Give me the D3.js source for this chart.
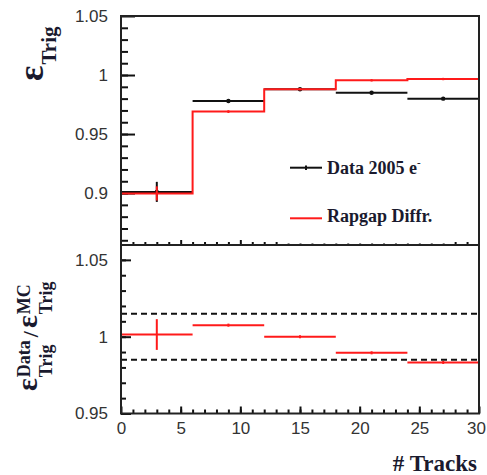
<!DOCTYPE html>
<html lang="en">
<head>
<meta charset="UTF-8">
<title>Trigger efficiency</title>
<style>
  body { margin: 0; background: #fff; }
  .tick text { font-family: "Liberation Sans", Arial, sans-serif; font-size: 17px; fill: #333; }
  .serif { font-family: "Liberation Serif", "Times New Roman", serif; font-weight: bold; fill: #1a1a2e; }
</style>
</head>
<body>
<svg width="487" height="475" id="svg"></svg>
<script src="https://d3js.org/d3.v7.min.js"></script>
<script>
// bins in number of tracks
const binEdges = [0, 6, 12, 18, 24, 30]
// data 2005 e-
const dataEff = [0.901, 0.978, 0.988, 0.985, 0.980]
const dataErr = [0.0085, 0.0012, 0.001, 0.001, 0.001]
// rapgap diffractive MC
const mcEff = [0.8997, 0.969, 0.988, 0.9955, 0.9966]
const mcErr = [0.006, 0.0012, 0.001, 0.001, 0.001]
// ratio data / mc
const ratio = [1.0014, 1.0075, 1.0, 0.9895, 0.9832]
const ratioErr = [0.010, 0.001, 0.001, 0.001, 0.001]
const bandLines = [0.985, 1.015]

const topMajor = [0.9, 0.95, 1, 1.05]
const topMinor = d3.range(86, 105).map(v => v / 100)
const botMajor = [0.95, 1, 1.05]
const botMinor = d3.range(96, 106).map(v => v / 100)
const xMajor = [0, 5, 10, 15, 20, 25, 30]
const xMinor = d3.range(1, 30)

const svg = d3.select("svg#svg")
const left = 121, right = 479
const topY0 = 16, split = 245, botY1 = 413.5

const x = d3.scaleLinear().domain([0, 30]).range([left, right])
const yTop = d3.scaleLinear().domain([0.856, 1.05]).range([split, topY0])
const yBot = d3.scaleLinear().domain([0.95, 1.06]).range([botY1, split - 0.5])

const fmt = d => String(+d.toFixed(2))

function yAxis(scale, major, minor, bigLen, smallLen) {
  const g = svg.append("g").attr("transform", `translate(${left},0)`)
  g.append("g").call(d3.axisLeft(scale).tickValues(minor).tickSize(-smallLen).tickFormat(""))
  g.append("g").call(d3.axisLeft(scale).tickValues(major).tickSize(-bigLen).tickPadding(13).tickFormat(fmt))
  g.selectAll(".domain").remove()
  g.selectAll("line").attr("stroke", "#111").attr("stroke-width", 2)
  return g
}
yAxis(yTop, topMajor, topMinor, 14, 7)
yAxis(yBot, botMajor, botMinor, 10, 5)

// bottom x axis with labels
const gx = svg.append("g").attr("transform", `translate(0,${botY1})`)
gx.append("g").call(d3.axisBottom(x).tickValues(xMinor).tickSize(-4).tickFormat(""))
gx.append("g").call(d3.axisBottom(x).tickValues(xMajor).tickSize(-7).tickPadding(8).tickFormat(d3.format("d")))
gx.selectAll(".domain").remove()
gx.selectAll("line").attr("stroke", "#111").attr("stroke-width", 2)
// keep the last label inside the page
gx.selectAll(".tick text").filter(d => d === 30).attr("dx", -3)

// top panel x ticks (no labels)
const gxt = svg.append("g").attr("transform", `translate(0,${split})`)
gxt.append("g").call(d3.axisBottom(x).tickValues(xMinor.filter(v => v % 5)).tickSize(-3).tickFormat(""))
gxt.append("g").call(d3.axisBottom(x).tickValues(xMajor.slice(1, -1)).tickSize(-5).tickFormat(""))
gxt.selectAll(".domain").remove()
gxt.selectAll("line").attr("stroke", "#111").attr("stroke-width", 2)

const bins = dataEff.map((v, i) => ({
  x0: binEdges[i], x1: binEdges[i + 1], xc: (binEdges[i] + binEdges[i + 1]) / 2,
  data: v, dErr: dataErr[i], mc: mcEff[i], mErr: mcErr[i], r: ratio[i], rErr: ratioErr[i]
}))

// data points: horizontal bin bars + error bars
const gd = svg.append("g").attr("stroke", "#111").attr("stroke-width", 2)
gd.selectAll(".hbar").data(bins).join("line")
  .attr("x1", d => x(d.x0)).attr("x2", d => x(d.x1))
  .attr("y1", d => yTop(d.data)).attr("y2", d => yTop(d.data))
gd.selectAll(".vbar").data(bins).join("line").attr("class", "vbar")
  .attr("x1", d => x(d.xc)).attr("x2", d => x(d.xc))
  .attr("y1", d => yTop(d.data + d.dErr)).attr("y2", d => yTop(d.data - d.dErr))
gd.selectAll("circle").data(bins).join("circle")
  .attr("cx", d => x(d.xc)).attr("cy", d => yTop(d.data)).attr("r", 1.2).attr("fill", "#111")

// MC histogram
const step = []
bins.forEach(d => { step.push([d.x0, d.mc]); step.push([d.x1, d.mc]) })
svg.append("path")
  .attr("d", d3.line().x(d => x(d[0])).y(d => yTop(d[1]))(step))
  .attr("fill", "none").attr("stroke", "#ff1a1a").attr("stroke-width", 2)
svg.append("g").selectAll("line").data(bins).join("line")
  .attr("x1", d => x(d.xc)).attr("x2", d => x(d.xc))
  .attr("y1", d => yTop(d.mc + d.mErr)).attr("y2", d => yTop(d.mc - d.mErr))
  .attr("stroke", "#ff1a1a").attr("stroke-width", 2)

// ratio panel
svg.append("g").selectAll("line").data(bandLines).join("line")
  .attr("x1", x(0)).attr("x2", x(30))
  .attr("y1", d => yBot(d)).attr("y2", d => yBot(d))
  .attr("stroke", "#111").attr("stroke-width", 2).attr("stroke-dasharray", "6,4")
const gr = svg.append("g").attr("stroke", "#ff1a1a").attr("stroke-width", 2)
gr.selectAll(".h").data(bins).join("line").attr("class", "h")
  .attr("x1", d => x(d.x0)).attr("x2", d => x(d.x1))
  .attr("y1", d => yBot(d.r)).attr("y2", d => yBot(d.r))
gr.selectAll(".v").data(bins).join("line").attr("class", "v")
  .attr("x1", d => x(d.xc)).attr("x2", d => x(d.xc))
  .attr("y1", d => yBot(d.r + d.rErr)).attr("y2", d => yBot(d.r - d.rErr))

// legend (white box hides some ticks)
const lg = svg.append("g")
lg.append("rect").attr("x", 282).attr("y", 150).attr("width", 168).attr("height", 93.5).attr("fill", "#fff")
lg.append("line").attr("x1", 290).attr("x2", 322).attr("y1", 167.7).attr("y2", 167.7).attr("stroke", "#111").attr("stroke-width", 2)
lg.append("line").attr("x1", 306).attr("x2", 306).attr("y1", 165.5).attr("y2", 170).attr("stroke", "#111").attr("stroke-width", 2)
const t1 = lg.append("text").attr("class", "serif").attr("x", 327).attr("y", 174).attr("font-size", 18).text("Data 2005 e")
t1.append("tspan").attr("dy", -8).attr("font-size", 11).text("-")
lg.append("line").attr("x1", 290).attr("x2", 322).attr("y1", 218.3).attr("y2", 218.3).attr("stroke", "#ff1a1a").attr("stroke-width", 2)
lg.append("text").attr("class", "serif").attr("x", 327).attr("y", 222).attr("font-size", 18).text("Rapgap Diffr.")

// frames
svg.append("rect").attr("x", left).attr("y", topY0).attr("width", right - left).attr("height", split - topY0)
  .attr("fill", "none").attr("stroke", "#222").attr("stroke-width", 2)
svg.append("rect").attr("x", left).attr("y", split).attr("width", right - left).attr("height", botY1 - split)
  .attr("fill", "none").attr("stroke", "#222").attr("stroke-width", 2)

// axis titles
svg.append("text").attr("class", "serif").attr("x", 477).attr("y", 471).attr("font-size", 23)
  .attr("text-anchor", "end").text("# Tracks")

// rotated titles: local (u, v) -> screen (v, y0 - u)
function piece(g, str, u, v, size) {
  return g.append("text").attr("class", "serif").attr("x", u).attr("y", v).attr("font-size", size).text(str)
}
const yt = svg.append("g").attr("transform", "translate(0,81) rotate(-90)")
const eps = piece(yt, "ε", 0, 43, 36)
piece(yt, "Trig", eps.node().getComputedTextLength() + 1, 56, 21)

const yb = svg.append("g").attr("transform", "translate(0,391) rotate(-90)")
let u = 0
const e1 = piece(yb, "ε", u, 37, 30)
u += e1.node().getComputedTextLength() + 1
const s1 = piece(yb, "Data", u, 30, 18)
const b1 = piece(yb, "Trig", u, 52, 18)
u += Math.max(s1.node().getComputedTextLength(), b1.node().getComputedTextLength()) + 3
const sl = piece(yb, "/", u, 38, 22)
u += sl.node().getComputedTextLength() + 3
const e2 = piece(yb, "ε", u, 37, 30)
u += e2.node().getComputedTextLength() + 1
piece(yb, "MC", u, 30, 18)
piece(yb, "Trig", u, 52, 18)
</script>
</body>
</html>
